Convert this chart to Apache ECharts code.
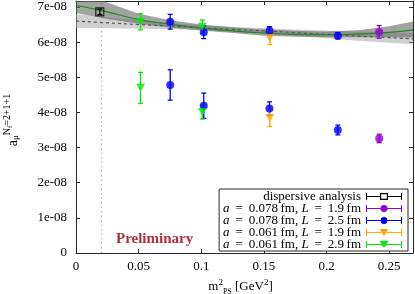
<!DOCTYPE html>
<html><head><meta charset="utf-8">
<script src="https://cdn.jsdelivr.net/npm/echarts@6/dist/echarts.min.js"></script>
<style>html,body{margin:0;padding:0;background:#fff}#c{width:415px;height:294px}</style>
</head><body><div id="c"></div>
<script>
// ---- data (y values in units of 1e-8) ----
const xTickLabels = ['0', '0.05', '0.1', '0.15', '0.2', '0.25'];
const yTickLabels = ['0', '1e-08', '2e-08', '3e-08', '4e-08', '5e-08', '6e-08', '7e-08'];

const dispX = [0.019];
const dispY = [6.86];
const dispErr = [0.08];

const purpleX = [0.242, 0.242];
const purpleY = [6.29, 3.26];
const purpleErr = [0.18, 0.12];

const blueX = [0.0752, 0.0752, 0.102, 0.102, 0.1544, 0.1544, 0.209, 0.209];
const blueY = [6.58, 4.78, 6.28, 4.19, 6.32, 4.11, 6.18, 3.50];
const blueErr = [0.21, 0.43, 0.18, 0.36, 0.12, 0.19, 0.09, 0.14];

const orangeX = [0.1547, 0.1547];
const orangeY = [6.12, 3.84];
const orangeErr = [0.19, 0.24];

const greenX = [0.0515, 0.0515, 0.1008, 0.1008];
const greenY = [6.58, 4.70, 6.44, 4.01];
const greenErr = [0.23, 0.44, 0.19, 0.20];

// fit curves and bands, read at these x positions
const fitX     = [0, 0.025, 0.05, 0.075, 0.1, 0.125, 0.15, 0.175, 0.2, 0.225, 0.25, 0.269];
const fitGreen = [7.05, 6.86, 6.64, 6.51, 6.40, 6.32, 6.26, 6.22, 6.21, 6.23, 6.28, 6.35];
const darkLo   = [6.83, 6.66, 6.52, 6.41, 6.33, 6.26, 6.18, 6.15, 6.14, 6.14, 6.14, 6.13];
const darkHi   = [7.45, 7.13, 6.81, 6.62, 6.50, 6.42, 6.36, 6.32, 6.30, 6.34, 6.45, 6.59];
const fitDash  = [6.60, 6.55, 6.50, 6.46, 6.41, 6.36, 6.32, 6.27, 6.22, 6.17, 6.13, 6.09];
const lightLo  = [6.40, 6.40, 6.38, 6.37, 6.34, 6.29, 6.24, 6.18, 6.11, 6.04, 5.98, 5.94];
const lightHi  = [6.80, 6.70, 6.62, 6.55, 6.48, 6.43, 6.40, 6.36, 6.33, 6.30, 6.28, 6.25];

const EQ = ' \u2009=\u2009 ';
const legendTexts = {
  disp: 'dispersive analysis',
  p19: '{i|a}' + EQ + '0.078\u2009fm, {i|L}' + EQ + '1.9\u2009fm',
  b25: '{i|a}' + EQ + '0.078\u2009fm, {i|L}' + EQ + '2.5\u2009fm',
  o19: '{i|a}' + EQ + '0.061\u2009fm, {i|L}' + EQ + '1.9\u2009fm',
  g29: '{i|a}' + EQ + '0.061\u2009fm, {i|L}' + EQ + '2.9\u2009fm'
};

// ---- styling ----
const FONT = 'Liberation Serif';
const C = { disp: '#000000', p19: '#9400d3', b25: '#0000ff', o19: '#ffa500', g29: '#00ee00' };
const AX = '#262626';

const bar = 'M0,4H36V5H0Z M0,1H1V8H0Z M35,1H36V8H35Z ';
const iconCircle = 'path://' + bar + 'M21.5,4.5A3.5,3.5,0,1,1,14.5,4.5A3.5,3.5,0,1,1,21.5,4.5Z';
const iconTri = 'path://' + bar + 'M13.5,1H22.5L18,8Z';
const iconSq = 'path://M0,4H14V5H0Z M22,4H36V5H22Z M0,1H1V8H0Z M35,1H36V8H35Z M14,1H22V8H14Z M15.2,2.2V6.8H20.8V2.2Z';

function zip3(a, b, c) { return a.map((v, i) => [v, b[i], c[i]]); }

function errRender(color) {
  return function (params, api) {
    const x = api.value(0), y = api.value(1), e = api.value(2);
    const t = api.coord([x, y + e]), b = api.coord([x, y - e]);
    const hw = 2.5;
    const st = { stroke: color, lineWidth: 1.3 };
    return { type: 'group', children: [
      { type: 'line', shape: { x1: t[0], y1: t[1], x2: b[0], y2: b[1] }, style: st },
      { type: 'line', shape: { x1: t[0] - hw, y1: t[1], x2: t[0] + hw, y2: t[1] }, style: st },
      { type: 'line', shape: { x1: b[0] - hw, y1: b[1], x2: b[0] + hw, y2: b[1] }, style: st }
    ]};
  };
}

function bandRender(lo, hi, fill) {
  return function (params, api) {
    if (params.dataIndex !== 0) return null;
    const pts = [];
    for (let i = 0; i < fitX.length; i++) pts.push(api.coord([fitX[i], hi[i]]));
    for (let i = fitX.length - 1; i >= 0; i--) pts.push(api.coord([fitX[i], lo[i]]));
    return { type: 'polygon', shape: { points: pts }, style: { fill: fill } };
  };
}

function errSeries(name, xs, ys, es, color) {
  return { name: name, type: 'custom', z: 4, renderItem: errRender(color),
    data: zip3(xs, ys, es), encode: { x: 0, y: 1 }, itemStyle: { color: color }, silent: true };
}
function ptSeries(name, xs, ys, color, tri) {
  return { name: name, type: 'scatter', z: 5, silent: true,
    symbol: tri ? 'triangle' : 'circle', symbolRotate: tri ? 180 : 0,
    symbolSize: tri ? [9, 8] : 8, itemStyle: { color: color },
    data: xs.map((x, i) => [x, ys[i]]) };
}

const axisCommon = {
  type: 'value', splitLine: { show: false },
  axisLine: { show: true, onZero: false, lineStyle: { color: AX, width: 1 } },
  axisTick: { show: true, inside: true, length: 4, lineStyle: { color: AX } }
};

const tickFmt = (labels, step) => (v) => {
  const i = Math.round(v / step);
  return Math.abs(v - i * step) < 1e-9 && labels[i] !== undefined ? labels[i] : '';
};

const option = {
  animation: false,
  backgroundColor: '#fff',
  textStyle: { fontFamily: FONT },
  grid: { left: 76, right: 2, top: 1, bottom: 41, containLabel: false, outerBoundsMode: 'none' },
  xAxis: [
    Object.assign({}, axisCommon, { position: 'bottom', min: 0, max: 0.269, interval: 0.05,
      axisLabel: { margin: 7, color: '#000', fontFamily: FONT, fontSize: 13,
        formatter: tickFmt(xTickLabels, 0.05), showMaxLabel: false },
      name: 'm{sup|2}{sub|PS} [GeV{sup|2}]', nameLocation: 'middle', nameGap: 23,
      nameTextStyle: { color: '#000', fontFamily: FONT, fontSize: 13, lineHeight: 18, padding: [0, 8, 0, 0],
        rich: { sup: { fontSize: 9, fontFamily: FONT, verticalAlign: 'top', lineHeight: 18 },
                sub: { fontSize: 8, fontFamily: FONT, verticalAlign: 'bottom', lineHeight: 18 } } } }),
    Object.assign({}, axisCommon, { position: 'top', min: 0, max: 0.269, interval: 0.05,
      axisLabel: { show: false } })
  ],
  yAxis: [
    Object.assign({}, axisCommon, { position: 'left', min: 0, max: 7.17, interval: 1,
      axisLabel: { margin: 9, color: '#000', fontFamily: FONT, fontSize: 13,
        formatter: tickFmt(yTickLabels, 1), showMaxLabel: false },
      name: '{a|a}{mu|μ}{sup|N}{f|f}{sup|=2+1+1}', nameLocation: 'middle', nameRotate: 90, nameGap: 56,
      nameTextStyle: { color: '#000', fontFamily: FONT, fontSize: 13, lineHeight: 18, padding: [0, 0, 0, 14],
        rich: { a: { fontSize: 14, fontFamily: FONT, verticalAlign: 'bottom', lineHeight: 18 },
                mu: { fontSize: 9, fontFamily: FONT, verticalAlign: 'bottom', lineHeight: 18 },
                sup: { fontSize: 10, fontFamily: FONT, verticalAlign: 'top', lineHeight: 18 },
                f: { fontSize: 7, fontFamily: FONT, verticalAlign: 'top', lineHeight: 18, padding: [5, 0, 0, 0] } } } }),
    Object.assign({}, axisCommon, { position: 'right', min: 0, max: 7.17, interval: 1,
      axisLabel: { show: false } })
  ],
  legend: {
    orient: 'vertical', align: 'right', right: 7, bottom: 43,
    backgroundColor: '#fff', borderColor: AX, borderWidth: 1, borderRadius: 0,
    padding: [1, 6, 0, 4], itemGap: -1, itemWidth: 36, itemHeight: 7,
    symbolKeepAspect: false, selectedMode: false, z: 10,
    textStyle: { color: '#000', fontFamily: FONT, fontSize: 13, lineHeight: 11,
      rich: { i: { fontStyle: 'italic', fontFamily: FONT, fontSize: 13, lineHeight: 11 } } },
    formatter: (n) => legendTexts[n],
    data: [
      { name: 'disp', icon: iconSq, itemStyle: { color: C.disp, borderWidth: 0 } },
      { name: 'p19', icon: iconCircle, itemStyle: { color: C.p19, borderWidth: 0 } },
      { name: 'b25', icon: iconCircle, itemStyle: { color: C.b25, borderWidth: 0 } },
      { name: 'o19', icon: iconTri, itemStyle: { color: C.o19, borderWidth: 0 } },
      { name: 'g29', icon: iconTri, itemStyle: { color: C.g29, borderWidth: 0 } }
    ]
  },
  graphic: [{
    type: 'text', left: 116, top: 232, z: 3,
    style: { text: 'Preliminary', fill: '#b42d3c', font: 'bold 15px "Liberation Serif"' }
  }],
  series: [
    { name: 'bandLight', type: 'custom', z: 1, silent: true, clip: true,
      renderItem: bandRender(lightLo, lightHi, 'rgba(170,170,170,0.55)'),
      data: zip3(fitX, lightLo, lightHi), encode: { x: 0, y: [1, 2] } },
    { name: 'bandDark', type: 'custom', z: 1, silent: true, clip: true,
      renderItem: bandRender(darkLo, darkHi, 'rgba(100,100,100,0.6)'),
      data: zip3(fitX, darkLo, darkHi), encode: { x: 0, y: [1, 2] } },
    { name: 'fitDash', type: 'line', z: 2, silent: true, showSymbol: false, smooth: true,
      lineStyle: { color: '#555', width: 1.2, type: [3, 3] }, data: fitX.map((x, i) => [x, fitDash[i]]) },
    { name: 'fitGreen', type: 'line', z: 2, silent: true, showSymbol: false, smooth: true,
      lineStyle: { color: '#1f8a1f', width: 1.2 }, data: fitX.map((x, i) => [x, fitGreen[i]]) },
    errSeries('disp', dispX, dispY, dispErr, C.disp),
    { name: 'disp', type: 'scatter', z: 5, silent: true, symbol: 'rect', symbolSize: 8,
      itemStyle: { color: 'rgba(0,0,0,0)', borderColor: '#000', borderWidth: 1.2 },
      data: dispX.map((x, i) => [x, dispY[i]]),
      markLine: { silent: true, symbol: 'none', label: { show: false }, z: 0,
        lineStyle: { color: '#9cc7bf', type: [1.5, 3], width: 1.2 },
        data: [{ xAxis: dispX[0] }] } },
    errSeries('p19', purpleX, purpleY, purpleErr, C.p19),
    ptSeries('p19', purpleX, purpleY, C.p19, false),
    errSeries('b25', blueX, blueY, blueErr, C.b25),
    ptSeries('b25', blueX, blueY, C.b25, false),
    errSeries('o19', orangeX, orangeY, orangeErr, C.o19),
    ptSeries('o19', orangeX, orangeY, C.o19, true),
    errSeries('g29', greenX, greenY, greenErr, C.g29),
    ptSeries('g29', greenX, greenY, C.g29, true)
  ]
};

const chart = echarts.init(document.getElementById('c'), null, { renderer: 'canvas' });
chart.setOption(option);
</script>
</body></html>
